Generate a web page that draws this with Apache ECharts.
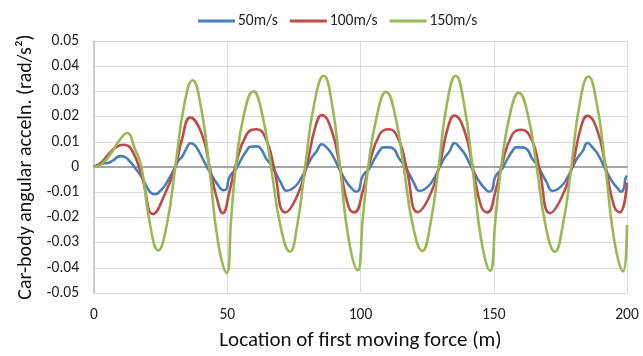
<!DOCTYPE html>
<html><head><meta charset="utf-8">
<script src="https://cdn.jsdelivr.net/npm/echarts@6/dist/echarts.min.js"></script>
<style>html,body{margin:0;padding:0;background:#fff}#c{width:643px;height:356px}</style>
</head><body><div id="c"></div>
<script>
// series names
const seriesNames = ['50m/s', '100m/s', '150m/s'];
// x tick values
const xTickValues = [0, 50, 100, 150, 200];
// y tick values
const yTickValues = [-0.05, -0.04, -0.03, -0.02, -0.01, 0, 0.01, 0.02, 0.03, 0.04, 0.05];

// 50 m/s (blue) — position (m), acceleration (rad/s^2)
const blueX = [0,3,5.5,7,9.9,11.7,13.6,16.1,18,19.9,21.7,23,24.9,26.7,29.2,30.5,31.7,33,34.9,36.1,37.4,39.2,41.1,42.4,44.2,46.1,48.6,49.7,50.5,51.6,53,55.4,57.3,58.6,61.2,62.9,64.6,66,68,70,72.3,75.4,78,79.8,81.7,83.5,85.5,87.5,89.2,92.3,94.5,96.7,98.4,99.5,100.4,101.5,102.9,105.3,107.2,108.5,111,112.8,114.5,115.9,117.9,119.9,122.1,125.3,127.9,129.7,131.6,133.4,135.3,137.4,139.1,142.2,144.4,146.6,148.3,149.4,150.3,151.4,152.8,155.2,157.1,158.4,160.9,162.7,164.4,165.8,167.8,169.8,172,175.2,177.8,179.6,181.5,183.3,185.2,187.3,189,192.1,194.3,196.5,197.8,198.8,199.4,200];
const blueY = [0,0.0013,0.0017,0.0025,0.0043,0.0039,0.002,-0.0013,-0.0042,-0.008,-0.0105,-0.0108,-0.0094,-0.0072,-0.0026,0,0.0026,0.004,0.0078,0.0094,0.009,0.0065,0.0026,0,-0.0033,-0.0065,-0.0092,-0.0088,-0.005,-0.0027,-0.0013,0.0033,0.0065,0.008,0.0082,0.0068,0.0033,0.0015,-0.002,-0.006,-0.0094,-0.0078,-0.0039,0,0.0037,0.0062,0.009,0.0075,0.0052,-0.0013,-0.0055,-0.0085,-0.0098,-0.009,-0.0046,-0.0026,-0.0013,0.0033,0.0065,0.0078,0.0078,0.0068,0.0033,0.0015,-0.002,-0.006,-0.0095,-0.0078,-0.0039,0,0.0037,0.0062,0.0095,0.0075,0.0052,-0.0013,-0.0055,-0.0085,-0.0098,-0.009,-0.0046,-0.0026,-0.0013,0.0033,0.0065,0.0078,0.0078,0.0068,0.0033,0.0015,-0.002,-0.006,-0.0095,-0.0078,-0.0039,0,0.0037,0.0062,0.0095,0.0075,0.0052,-0.0013,-0.0055,-0.0085,-0.0098,-0.0085,-0.0045,-0.0035];

// 100 m/s (red)
const redX = [0,3,5.5,8.5,11.1,14.3,18,22.2,26.5,30.5,33,36.1,40.5,43.4,46,48.3,51,53,57.3,61.1,64.8,67.5,71.8,76.1,79.7,83,85.5,89.2,92.3,95.5,97.7,101,103,107.2,110.6,114.5,117.2,121.5,125.8,129.5,132.8,135.2,139,142.1,145.3,147.6,150.8,152.8,157,160.3,164.4,167,171.2,175.6,179.4,182.7,185.1,188.9,192,195.2,197.3,200];
const redY = [0,0.002,0.0052,0.008,0.0088,0.0065,-0.0039,-0.0187,-0.011,0,0.011,0.0196,0.013,0,-0.012,-0.0183,-0.009,0,0.013,0.015,0.0104,0,-0.018,-0.0118,0,0.0157,0.0206,0.0144,0,-0.0157,-0.018,-0.009,0,0.013,0.015,0.0104,0,-0.0179,-0.0118,0,0.0157,0.0204,0.0144,0,-0.0157,-0.018,-0.009,0,0.013,0.0148,0.0104,0,-0.0183,-0.0118,0,0.0157,0.0203,0.0144,0,-0.0157,-0.018,-0.0062];

// 150 m/s (green)
const greenX = [0,3,6.75,9.5,12.4,15.4,17.8,20.9,24.1,27.3,30.5,33.75,37,40.1,43.25,46.5,49.75,51.5,53.2,56.4,59.8,63.1,66.45,70,73.5,76.35,79.2,82.7,86.2,89.3,92.3,95.6,98.9,100.9,102.9,106.3,109.6,112.9,116.2,119.7,123.2,126.25,129.3,132.5,135.7,138.85,142,145.3,148.6,150.7,152.8,156.1,159.4,162.75,166.1,169.5,172.9,176,179.1,182.3,185.5,188.7,191.9,195.2,198.5,200];
const greenY = [0,0.0012,0.006,0.0105,0.0135,0.007,0,-0.022,-0.0331,-0.023,0,0.024,0.0344,0.024,0,-0.0295,-0.042,-0.02,0,0.0215,0.030,0.021,0,-0.0235,-0.0336,-0.0225,0,0.0255,0.0362,0.025,0,-0.029,-0.041,-0.02,0,0.021,0.0298,0.021,0,-0.0235,-0.0333,-0.0225,0,0.0255,0.0362,0.025,0,-0.029,-0.0412,-0.02,0,0.021,0.0294,0.021,0,-0.0235,-0.0336,-0.0225,0,0.0255,0.0359,0.025,0,-0.029,-0.0414,-0.023];

const colors = ['#4A7EBB', '#BE4B48', '#98B954'];
const zip = (xs, ys) => xs.map((x, i) => [x, ys[i]]);
const FONT = "Carlito, Calibri, 'Liberation Sans Narrow', 'Liberation Sans', sans-serif";

const chart = echarts.init(document.getElementById('c'), null, {renderer: 'canvas'});
chart.setOption({
  animation: false,
  color: colors,
  textStyle: {fontFamily: FONT},
  legend: {
    top: 8, left: 193,
    itemWidth: 37, itemHeight: 3, itemGap: 12, icon: 'rect',
    textStyle: {fontSize: 15.5, color: '#222', fontFamily: FONT, padding: [0, 0, 0, -2]},
    data: seriesNames
  },
  grid: {left: 94, right: 16, top: 41, bottom: 60, containLabel: false},
  xAxis: [{
    type: 'value', min: xTickValues[0], max: xTickValues[xTickValues.length - 1], interval: 50,
    position: 'bottom',
    axisLine: {show: false, onZero: false},
    axisTick: {show: false},
    axisLabel: {fontSize: 15.5, color: '#222', margin: 14, fontFamily: FONT},
    splitLine: {show: true, lineStyle: {color: '#D9D9D9', width: 1}},
    name: 'Location of first moving force (m)', nameLocation: 'middle', nameGap: 37,
    nameTextStyle: {fontSize: 21, color: '#111', fontFamily: FONT}
  }, {
    type: 'value', min: 0, max: 200, position: 'bottom',
    axisLine: {show: true, onZero: true, lineStyle: {color: '#A6A6A6', width: 2}},
    axisTick: {show: false}, axisLabel: {show: false}, splitLine: {show: false}
  }],
  yAxis: {
    type: 'value', min: yTickValues[0], max: yTickValues[yTickValues.length - 1], interval: 0.01,
    axisLine: {show: true, lineStyle: {color: '#BFBFBF', width: 1.5}},
    axisTick: {show: false},
    axisLabel: {fontSize: 15.5, color: '#222', margin: 15, fontFamily: FONT,
      formatter: v => Math.abs(v) < 1e-9 ? '0' : v.toFixed(2)},
    splitLine: {show: true, lineStyle: {color: '#D9D9D9', width: 1}},
    name: 'Car-body angular acceln. (rad/s²)', nameLocation: 'middle', nameGap: 57,
    nameTextStyle: {fontSize: 20, color: '#111', fontFamily: FONT}
  },
  series: [
    {name: seriesNames[0], type: 'line', data: zip(blueX, blueY), smooth: 0.5, showSymbol: false, lineStyle: {width: 2.6}, z: 3},
    {name: seriesNames[1], type: 'line', data: zip(redX, redY), smooth: 0.5, showSymbol: false, lineStyle: {width: 2.6}, z: 4},
    {name: seriesNames[2], type: 'line', data: zip(greenX, greenY), smooth: 0.5, showSymbol: false, lineStyle: {width: 2.6}, z: 5}
  ]
});
</script></body></html>
